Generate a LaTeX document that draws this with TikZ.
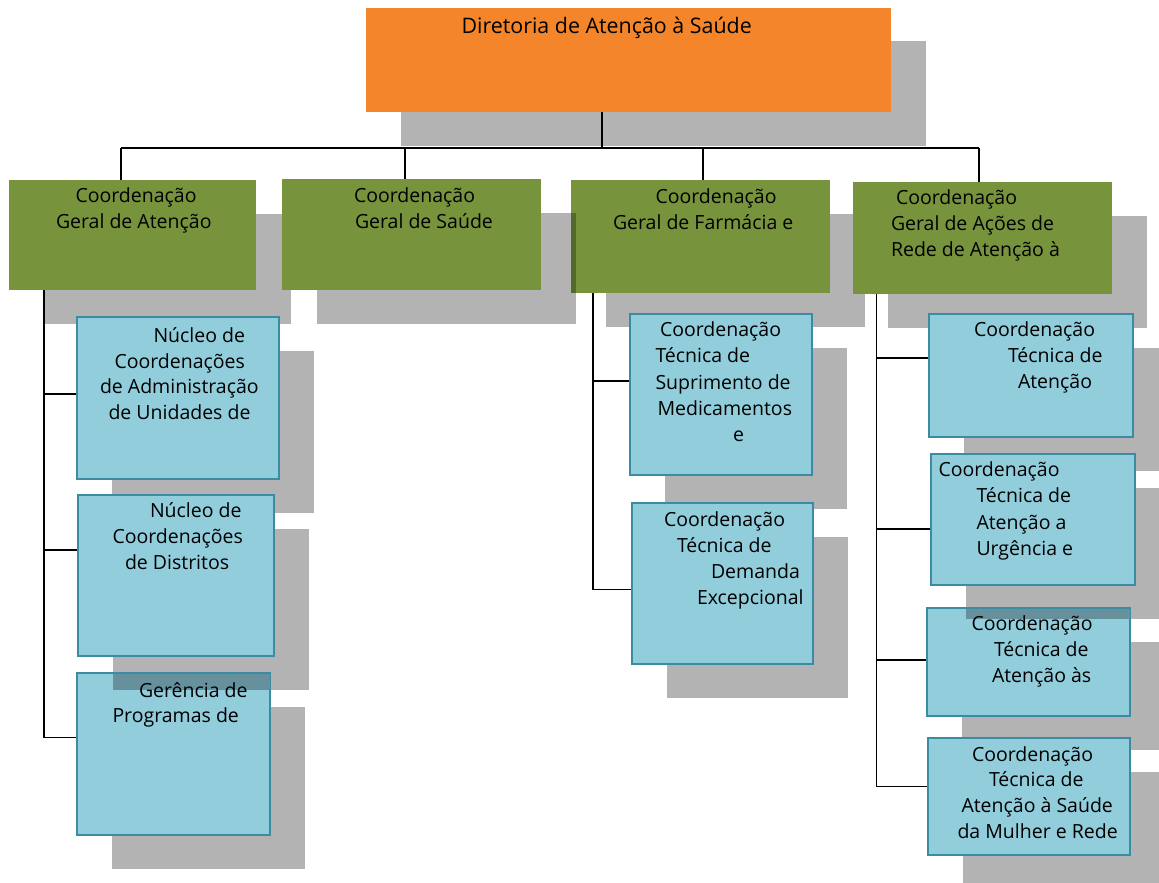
\documentclass[tikz,border=0pt]{standalone}
\usepackage{fontspec}
\setmainfont{Open Sans}
\usetikzlibrary{calc}

\definecolor{dirorange}{HTML}{F4852A}
\definecolor{cggreen}{HTML}{77933C}
\definecolor{ctblue}{HTML}{92CDDC}
\definecolor{ctborder}{HTML}{3B8CA3}
\definecolor{shadowgray}{HTML}{B3B3B3}
\definecolor{blueshade}{HTML}{66909C}
\definecolor{greenshade}{HTML}{546A2B}

\pgfdeclarelayer{shadowlayer}
\pgfdeclarelayer{linelayer}
\pgfsetlayers{shadowlayer,linelayer,main}

\tikzset{
  orgbase/.style={rectangle, anchor=north west, inner sep=0pt, outer sep=0pt},
  dirbox/.style={orgbase, fill=dirorange},
  geralbox/.style={orgbase, fill=cggreen},
  tecbox/.style={orgbase, fill=ctblue, draw=ctborder, line width=1.1pt},
  dropshadow/.style={fill=shadowgray},
  bus/.style={draw=black, line width=1.4pt},
  trunk/.style={draw=black, line width=1.9pt},
  branch/.style={draw=black, line width=1.2pt},
  boxtext/.style={anchor=base west, inner sep=0pt, outer sep=0pt,
    font=\fontsize{19.5}{24}\selectfont, text=black},
  titletext/.style={boxtext, font=\fontsize{21.4}{26}\selectfont},
}

% box with its drop shadow: name, style, x1, y1, x2, y2
\newcommand\orgbox[6]{%
  \node[#2, minimum width={#5-#3}, minimum height={#6-#4}] (#1) at (#3,#4) {};
  \begin{pgfonlayer}{shadowlayer}
    \fill[dropshadow] ([shift={(34.5,33.5)}]#1.north west) rectangle ([shift={(34.5,33.5)}]#1.south east);
  \end{pgfonlayer}}

% one line of text: name, x, baseline y, text
\newcommand\boxline[4]{\node[boxtext] (#1) at (#2,#3) {#4};}

\begin{document}
\begin{tikzpicture}[x=1pt,y=-1pt]
\useasboundingbox (0,0) rectangle (1159,883);
\begin{pgfonlayer}{shadowlayer}
  \fill[white] (0,0) rectangle (1159,883);
\end{pgfonlayer}

% ---- boxes ----
\orgbox{dir}{dirbox}{366}{8}{891}{112}

\orgbox{g1}{geralbox}{9}{180}{256}{290}
\orgbox{g2}{geralbox}{282}{179}{541}{290}
\orgbox{g3}{geralbox}{571}{180}{830}{293}
\orgbox{g4}{geralbox}{853}{182}{1112}{294}

\orgbox{b1}{tecbox}{77}{317}{279}{479}
\orgbox{b2}{tecbox}{78}{495}{274}{656}
\orgbox{b3}{tecbox}{77}{673}{270}{835}

\orgbox{m1}{tecbox}{630}{314}{812}{475}
\orgbox{m2}{tecbox}{632}{503}{813}{664}

\orgbox{c1}{tecbox}{929}{314}{1133}{437}
\orgbox{c2}{tecbox}{931}{454}{1135}{585}
\orgbox{c3}{tecbox}{927}{608}{1130}{716}
\orgbox{c4}{tecbox}{928}{738}{1130}{855}

% shadows that fall across a neighbouring box
\fill[greenshade] (g3.north west |- 0,212.5) rectangle (575.5,292.5);
\fill[blueshade] (112.5,673.5) rectangle (269.5,689.5);
\fill[blueshade] (965.5,608.5) rectangle (1129.5,618.5);

% ---- connectors ----
\begin{pgfonlayer}{linelayer}
  \coordinate (hub) at (602,148);
  \coordinate (busL) at (121,148);
  \coordinate (busR) at (979,148);
  \coordinate (d2) at (405,148);
  \coordinate (d3) at (703,148);
  \draw[bus] (hub |- dir.south) -- (hub);
  \draw[bus] (busL) -- (busR);
  \draw[bus] (busL) -- (busL |- g1.north);
  \draw[bus] (d2) -- (d2 |- g2.north);
  \draw[bus] (d3) -- (d3 |- g3.north);
  \draw[bus] (busR) -- (busR |- g4.north);

  % left column
  \coordinate (ja1) at (44,394);
  \coordinate (ja2) at (44,550);
  \coordinate (ja3) at (44,737.5);
  \draw[trunk] (ja1 |- g1.south) -- (ja3);
  \draw[branch] (ja1) -- (ja1 -| b1.west);
  \draw[branch] (ja2) -- (ja2 -| b2.west);
  \draw[branch] (ja3) -- (ja3 -| b3.west);

  % middle column
  \coordinate (jb1) at (593,381);
  \coordinate (jb2) at (593,589.5);
  \draw[trunk] (jb1 |- g3.south) -- (jb2);
  \draw[branch] (jb1) -- (jb1 -| m1.west);
  \draw[branch] (jb2) -- (jb2 -| m2.west);

  % right column
  \coordinate (jc1) at (876.5,358);
  \coordinate (jc2) at (876.5,529);
  \coordinate (jc3) at (876.5,660);
  \coordinate (jc4) at (876.5,786.5);
  \draw[trunk] (jc1 |- g4.south) -- (jc4);
  \draw[branch] (jc1) -- (jc1 -| c1.west);
  \draw[branch] (jc2) -- (jc2 -| c2.west);
  \draw[branch] (jc3) -- (jc3 -| c3.west);
  \draw[branch] (jc4) -- (jc4 -| c4.west);
\end{pgfonlayer}

% ---- texts ----
\node[titletext] (tdir) at (461.5,34) {Diretoria de Atenção à Saúde};

\boxline{tg1a}{75.5}{202.5}{Coordenação}
\boxline{tg1b}{56}{228}{Geral de Atenção}
\boxline{tg2a}{354}{202.5}{Coordenação}
\boxline{tg2b}{355}{228.5}{Geral de Saúde}
\boxline{tg3a}{655.5}{203}{Coordenação}
\boxline{tg3b}{613}{229}{Geral de Farmácia e}
\boxline{tg4a}{896}{204.5}{Coordenação}
\boxline{tg4b}{891}{230.5}{Geral de Ações de}
\boxline{tg4c}{891}{256.5}{Rede de Atenção à}

\boxline{tb1a}{153.5}{342}{Núcleo de}
\boxline{tb1b}{114.5}{368}{Coordenações}
\boxline{tb1c}{100}{393.5}{de Administração}
\boxline{tb1d}{108.5}{419}{de Unidades de}
\boxline{tb2a}{150}{517.5}{Núcleo de}
\boxline{tb2b}{112.5}{543.5}{Coordenações}
\boxline{tb2c}{125}{569.5}{de Distritos}
\boxline{tb3a}{139}{697}{Gerência de}
\boxline{tb3b}{112.5}{722.5}{Programas de}

\boxline{tm1a}{660}{336.5}{Coordenação}
\boxline{tm1b}{655.5}{362.5}{Técnica de}
\boxline{tm1c}{655.5}{389}{Suprimento de}
\boxline{tm1d}{657.5}{415}{Medicamentos}
\boxline{tm1e}{733}{441}{e}
\boxline{tm2a}{664}{526.5}{Coordenação}
\boxline{tm2b}{677}{552.5}{Técnica de}
\boxline{tm2c}{711}{578.5}{Demanda}
\boxline{tm2d}{697}{604}{Excepcional}

\boxline{tc1a}{974}{336.5}{Coordenação}
\boxline{tc1b}{1008}{362.5}{Técnica de}
\boxline{tc1c}{1018}{388}{Atenção}
\boxline{tc2a}{938.5}{476.5}{Coordenação}
\boxline{tc2b}{976.5}{502.5}{Técnica de}
\boxline{tc2c}{976.5}{529}{Atenção a}
\boxline{tc2d}{976.5}{555}{Urgência e}
\boxline{tc3a}{971.5}{630.5}{Coordenação}
\boxline{tc3b}{994}{656.5}{Técnica de}
\boxline{tc3c}{992}{682.5}{Atenção às}
\boxline{tc4a}{972}{761}{Coordenação}
\boxline{tc4b}{989}{786.5}{Técnica de}
\boxline{tc4c}{961.5}{812.5}{Atenção à Saúde}
\boxline{tc4d}{957.5}{838}{da Mulher e Rede}
\end{tikzpicture}
\end{document}
